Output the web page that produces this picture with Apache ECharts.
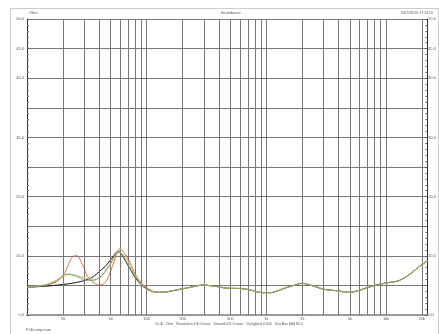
<!DOCTYPE html>
<html>
<head>
<meta charset="utf-8">
<script src="https://cdn.jsdelivr.net/npm/echarts@6/dist/echarts.min.js"></script>
<style>
  html, body { margin: 0; padding: 0; background: #fff; }
  #chart { width: 439px; height: 334px; }
</style>
</head>
<body>
<div id="chart"></div>
<script>
// impedance curves, [Hz, Ohm]; every curve shares the part above ~120 Hz
const blackLow = [[10,4.7],[14,4.85],[20,5.15],[26,5.5],[31,5.9],[36,6.5],[40,7.3],[45,8.2],[49,9.1],[53,10.0],[57,10.7],[61,10.4],[67,9.0],[74,7.5],[81,6.2],[89,5.2],[98,4.5],[110,4.0]];
const orangeLow = [[10,4.7],[13,4.9],[16.5,5.35],[18.5,5.9],[20,6.7],[21.5,7.8],[22.7,9.0],[24,9.8],[25.7,10.1],[27,9.8],[28.3,9.0],[30,7.9],[31.1,7.0],[33,6.2],[35.4,5.6],[40,5.07],[43,5.2],[45.6,5.6],[48,6.5],[51.7,8.2],[55,9.8],[58,10.8],[60.6,11.1],[64,10.6],[71,9.3],[78,7.4],[86,6.0],[95,5.0],[104,4.45],[112,4.0]];
const tanLow = [[10,4.7],[14,5.1],[17,5.7],[20,6.4],[23,6.9],[26,6.7],[31,6.2],[36,6.0],[40,6.3],[45,7.2],[50,8.6],[55,10.2],[59,11.2],[62,11.0],[68,9.6],[75,7.8],[82,6.4],[90,5.3],[100,4.5],[112,4.0]];
const greenLow = [[10,4.7],[14,5.0],[16.5,5.5],[19,6.3],[21.3,6.9],[23.5,6.8],[26,6.5],[31,5.9],[35,5.85],[38,6.0],[42,6.6],[45.6,7.6],[49,8.5],[51.7,9.3],[55,10.3],[58,10.7],[62,10.3],[67,9.2],[74,7.6],[81,6.4],[89,5.3],[98,4.6],[110,4.0]];
const highPart = [[125,3.83],[140,3.85],[161,4.05],[190,4.35],[222,4.61],[260,4.9],[296,5.07],[340,4.95],[394,4.78],[476,4.51],[610,4.48],[738,4.22],[830,3.95],[927,3.77],[1079,3.77],[1250,4.1],[1409,4.51],[1700,5.0],[1985,5.35],[2311,5.07],[2650,4.7],[3014,4.34],[3863,4.1],[4944,3.83],[5600,4.0],[6456,4.39],[8262,5.07],[10000,5.4],[12800,5.8],[14800,6.5],[16710,7.3],[19000,8.2],[22050,9.1]];

const gridFreqs = [20,30,40,50,60,70,80,90,100,200,300,400,500,600,700,800,900,1000,2000,3000,4000,5000,6000,7000,8000,9000,10000,20000];
const freqLabels = { 10: '10', 20: '20', 50: '50', 100: '100', 200: '200', 500: '500', 1000: '1k', 2000: '2k', 5000: '5k', 10000: '10k', 20000: '20k' };
const ohmLabels = [0, 10, 20, 30, 40, 45, 50];

const chart = echarts.init(document.getElementById('chart'));

const txt = { fontFamily: 'Liberation Sans', fontSize: 4, fill: '#555' };

const curve = (name, low, color, z) => ({
    name: name,
    type: 'line',
    data: low.concat(highPart),
    smooth: 0.35,
    showSymbol: false,
    z: z,
    lineStyle: { color: color, width: 1 }
});

const yAxisBase = {
    type: 'value',
    min: 0,
    max: 50,
    interval: 5,
    axisLine: { show: true, lineStyle: { color: '#333', width: 1 } },
    axisTick: { show: true, inside: true, length: 2, lineStyle: { color: '#555' } },
    minorTick: { show: true, splitNumber: 5, length: 2, lineStyle: { color: '#777' } },
    axisLabel: {
        fontSize: 4,
        color: '#555',
        margin: 3,
        fontFamily: 'Liberation Sans',
        formatter: v => (ohmLabels.includes(v) ? v.toFixed(1) : '')
    }
};

chart.setOption({
    animation: false,
    backgroundColor: '#fff',
    grid: { left: 27, right: 7, top: 19, bottom: 19 },
    xAxis: [
        {
            type: 'log',
            logBase: 10,
            min: 10,
            max: 22050,
            axisLine: { show: true, onZero: false, lineStyle: { color: '#333', width: 1 } },
            axisTick: { show: false },
            axisLabel: { show: false },
            splitLine: { show: false },
            minorSplitLine: { show: false }
        },
        {
            type: 'log',
            position: 'top',
            min: 10,
            max: 22050,
            axisLine: { show: true, lineStyle: { color: '#999', width: 2 } },
            axisTick: { show: false },
            axisLabel: { show: false },
            splitLine: { show: false }
        }
    ],
    yAxis: [
        Object.assign({}, yAxisBase, {
            position: 'left',
            splitLine: { show: true, lineStyle: { color: '#777', width: 1 } }
        }),
        Object.assign({}, yAxisBase, {
            position: 'right',
            splitLine: { show: false },
            axisLabel: Object.assign({}, yAxisBase.axisLabel, { margin: 1 })
        })
    ],
    series: [
        {
            type: 'line',
            data: [],
            z: 1,
            silent: true,
            markLine: {
                silent: true,
                symbol: 'none',
                animation: false,
                lineStyle: { color: '#777', width: 1, type: 'solid' },
                label: {
                    show: true,
                    position: 'start',
                    distance: 2,
                    fontSize: 4,
                    color: '#555',
                    fontFamily: 'Liberation Sans',
                    formatter: p => freqLabels[p.value] || ''
                },
                emphasis: { disabled: true },
                data: [10].concat(gridFreqs).map(f => ({
                    xAxis: f,
                    lineStyle: f === 10 ? { opacity: 0 } : undefined
                }))
            }
        },
        curve('black', blackLow, '#111', 3),
        curve('orange', orangeLow, '#e0774c', 4),
        curve('tan', tanLow, '#d2bb86', 5),
        curve('green', greenLow, '#7fa062', 6)
    ],
    graphic: [
        { type: 'rect', shape: { x: 10.5, y: 8.5, width: 428, height: 330 }, style: { fill: 'none', stroke: '#ccc', lineWidth: 1 }, silent: true },
        { type: 'text', left: 29, top: 11, style: Object.assign({ text: 'Ohm' }, txt) },
        { type: 'text', left: 221, top: 11, style: Object.assign({ text: 'Impedance' }, txt) },
        { type: 'text', right: 6, top: 11, style: Object.assign({ text: '2015/05/26 17:34:15' }, txt, { fontSize: 3.5 }) },
        { type: 'text', left: 155, top: 322, style: Object.assign({ text: 'Ch A   Ohm   Resolution:1/6 Octave   Smooth:1/6 Octave   Delay[ms]:0.000   Dist Box [dB]:80.0' }, txt, { fontSize: 3.5 }) },
        { type: 'text', left: 26, top: 328, style: Object.assign({ text: 'F:file-imp.com' }, txt) }
    ]
});
</script>
</body>
</html>
